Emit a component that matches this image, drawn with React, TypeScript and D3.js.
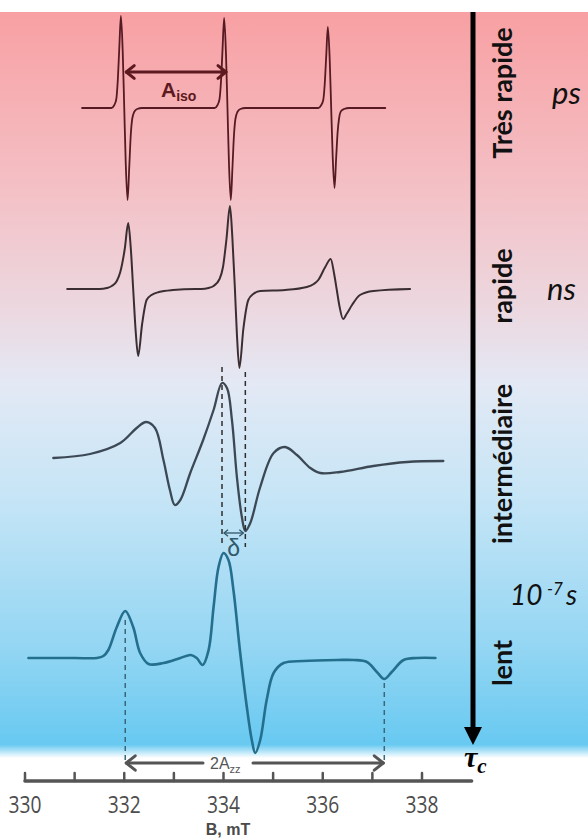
import React from "react";
import * as d3 from "d3";

const W = 588;
const H = 838;

// Magnetic field axis (mT)
const fieldDomain: [number, number] = [330, 338];
const fieldTicks = [330, 331, 332, 333, 334, 335, 336, 337, 338];
const fieldTickLabels = [330, 332, 334, 336, 338];
const axisEnd = 339;

// EPR spectra: [B (mT), intensity]
const spectrumTresRapide: [number, number][] = [
  [331.15, 0], [331.74, 0], [331.8, 3], [331.84, 9], [331.87, 28], [331.9, 60], [331.933, 92], [331.97, 55], [332.0, 0], [332.03, -55], [332.067, -92], [332.1, -60], [332.13, -28], [332.16, -11], [332.2, -4], [332.26, -1], [332.36, 0],
  [333.82, 0], [333.88, 3], [333.92, 9], [333.95, 27], [333.98, 58], [334.013, 90], [334.05, 54], [334.08, 0], [334.11, -55], [334.147, -92], [334.18, -60], [334.21, -28], [334.24, -11], [334.28, -4], [334.34, -1], [334.44, 0],
  [335.91, 0], [335.97, 3], [336.01, 8], [336.04, 24], [336.07, 52], [336.103, 81], [336.14, 49], [336.17, 0], [336.2, -48], [336.237, -80], [336.27, -50], [336.3, -24], [336.33, -10], [336.37, -3], [336.43, -1], [336.53, 0], [337.26, 0],
];

const spectrumRapide: [number, number][] = [
  [330.85, 0], [331.5, 0], [331.65, 1], [331.75, 3], [331.85, 8], [331.92, 17], [332.01, 40], [332.08, 66], [332.13, 42], [332.18, 0], [332.23, -42], [332.28, -67], [332.36, -35], [332.45, -11], [332.55, -6], [332.7, -3], [332.98, -1], [333.43, 0],
  [333.55, 0], [333.7, 1], [333.8, 3], [333.92, 10], [333.99, 22], [334.06, 50], [334.13, 83], [334.18, 50], [334.23, 0], [334.27, -45], [334.32, -79], [334.4, -40], [334.5, -11], [334.6, -5], [334.74, -2], [335.24, -1],
  [335.68, 2], [335.82, 5], [335.91, 9], [336.05, 22], [336.16, 30], [336.23, 15], [336.28, 0], [336.34, -18], [336.41, -30], [336.48, -25], [336.59, -16], [336.75, -6], [337.02, -2], [337.76, 0],
];

const spectrumIntermediaire: [number, number][] = [
  [330.57, 2], [331.31, 6], [331.92, 17], [332.25, 32], [332.44, 38], [332.62, 32], [332.79, 0], [332.92, -30], [333.02, -45], [333.13, -40], [333.33, -13],
  [333.59, 20], [333.8, 50], [333.97, 77], [334.07, 72], [334.17, 40], [334.27, -17], [334.37, -57], [334.44, -71], [334.54, -63], [334.74, -27],
  [335.01, 7], [335.24, 13], [335.48, 5], [335.75, -8], [335.95, -13], [336.35, -12], [337.02, -6], [337.7, -2], [338.43, -1],
];

const spectrumLent: [number, number][] = [
  [330.07, 0], [331.0, 0], [331.45, 0], [331.58, 2], [331.68, 8], [331.85, 31], [332.02, 47], [332.18, 31], [332.32, 5], [332.49, -6], [332.79, -5], [333.13, 0],
  [333.34, 3], [333.46, 0], [333.58, -7], [333.7, 8], [333.8, 51], [333.9, 91], [334.0, 105], [334.1, 98], [334.2, 68], [334.33, 8],
  [334.47, -49], [334.57, -82], [334.64, -95], [334.74, -82], [334.87, -42], [335.01, -15], [335.21, -5], [335.61, -3], [336.3, -2], [336.62, -2],
  [336.89, -4], [337.09, -14], [337.24, -21], [337.39, -14], [337.63, -2], [337.9, 0], [338.27, 0],
];

// Annotation field positions (mT)
const aisoMarks: [number, number] = [332.02, 334.07];
const deltaMarks: [number, number] = [333.97, 334.44];
const azzMarks: [number, number] = [332.02, 337.24];

// Labels
const regimeLabels = ["Très rapide", "rapide", "intermédiaire", "lent"];
const timeLabels = ["ps", "ns", "10", "-7", "s"];

// ---- layout ----
const xScale = d3.scaleLinear().domain(fieldDomain).range([25, 422]);
const baselines = [108, 289, 460, 658];
const yFor = (base: number) => d3.scaleLinear().domain([0, 100]).range([base, base - 100]);

const spectra = [
  { data: spectrumTresRapide, color: "#561a22", width: 1.8, curve: d3.curveMonotoneX },
  { data: spectrumRapide, color: "#3b2e33", width: 2, curve: d3.curveMonotoneX },
  { data: spectrumIntermediaire, color: "#3c4955", width: 2.3, curve: d3.curveCatmullRom.alpha(0.5) },
  { data: spectrumLent, color: "#246f8e", width: 2.6, curve: d3.curveCatmullRom.alpha(0.5) },
];

const regimeY = [93, 286, 464, 663];

function chevron(x: number, y: number, dir: number, s: number) {
  return `M${x + dir * s},${y - s * 0.8}L${x},${y}L${x + dir * s},${y + s * 0.8}`;
}

export default function App() {
  const axisY = 781;
  const a1 = xScale(aisoMarks[0]);
  const a2 = xScale(aisoMarks[1]);
  const d1 = xScale(deltaMarks[0]);
  const d2 = xScale(deltaMarks[1]);
  const z1 = xScale(azzMarks[0]);
  const z2 = xScale(azzMarks[1]);
  const azzY = 763;
  const sans = "'Liberation Sans', Arial, sans-serif";
  const lato = "Lato, 'Open Sans', sans-serif";

  return (
    <div style={{ position: "absolute", left: 0, top: 0 }}>
      <svg width={W} height={H} viewBox={`0 0 ${W} ${H}`} style={{ display: "block", background: "#fff" }}>
        <defs>
          <linearGradient id="bg" x1="0" y1="0" x2="0" y2="1">
            <stop offset="0%" stopColor="#f8a0a3" />
            <stop offset="22%" stopColor="#f4bec3" />
            <stop offset="40%" stopColor="#ecd8e0" />
            <stop offset="50%" stopColor="#e3e9f5" />
            <stop offset="65%" stopColor="#c6e5f6" />
            <stop offset="85%" stopColor="#94d6f3" />
            <stop offset="98.2%" stopColor="#68c9f1" />
            <stop offset="100%" stopColor="#ffffff" />
          </linearGradient>
        </defs>
        <rect x={0} y={12} width={W} height={746} fill="url(#bg)" />

        {/* spectra */}
        {spectra.map((s, i) => {
          const y = yFor(baselines[i]);
          const line = d3
            .line<[number, number]>()
            .x((d) => xScale(d[0]))
            .y((d) => y(d[1]))
            .curve(s.curve);
          return (
            <path key={i} d={line(s.data) || ""} fill="none" stroke={s.color} strokeWidth={s.width} strokeLinejoin="round" strokeLinecap="round" />
          );
        })}

        {/* A_iso arrow */}
        <g stroke="#5c1a20" strokeWidth={3} fill="none" strokeLinecap="round" strokeLinejoin="round">
          <line x1={a1 + 1} y1={72} x2={a2 - 1} y2={72} />
          <path d={chevron(a1 + 1, 72, 1, 8)} />
          <path d={chevron(a2 - 1, 72, -1, 8)} />
        </g>
        <text x={161} y={97} fontFamily={sans} fontWeight="bold" fontSize={21} fill="#5c1a20">
          A<tspan fontSize={14} dy={4}>iso</tspan>
        </text>

        {/* delta */}
        <g stroke="#2e2e2e" strokeWidth={1.5} strokeDasharray="5,4">
          <line x1={d1} y1={367} x2={d1} y2={543} />
          <line x1={d2} y1={372} x2={d2} y2={547} />
        </g>
        <g stroke="#2f5566" strokeWidth={1.3} fill="none">
          <line x1={d1 + 2} y1={533} x2={d2 - 2} y2={533} />
          <path d={chevron(d1 + 2, 533, 1, 4)} />
          <path d={chevron(d2 - 2, 533, -1, 4)} />
        </g>
        <text x={(d1 + d2) / 2} y={556} textAnchor="middle" fontFamily={sans} fontSize={23} fill="#2f5a6b">
          δ
        </text>

        {/* 2Azz */}
        <g stroke="#3c6679" strokeWidth={1.5} strokeDasharray="5,4">
          <line x1={z1} y1={620} x2={z1} y2={azzY} />
          <line x1={z2} y1={683} x2={z2} y2={azzY} />
        </g>
        <g stroke="#555" strokeWidth={3} fill="none" strokeLinecap="round" strokeLinejoin="round">
          <line x1={z1 + 1} y1={azzY} x2={203} y2={azzY} />
          <line x1={253} y1={azzY} x2={z2 - 1} y2={azzY} />
          <path d={chevron(z1 + 1, azzY, 1, 9)} />
          <path d={chevron(z2 - 1, azzY, -1, 9)} />
        </g>
        <text x={210} y={769} fontFamily={sans} fontSize={16} fill="#555">
          2A<tspan fontSize={11} dy={4}>zz</tspan>
        </text>

        {/* field axis */}
        <g stroke="#555" strokeLinecap="round">
          <line x1={xScale(fieldDomain[0])} y1={axisY} x2={xScale(axisEnd)} y2={axisY} strokeWidth={3.5} />
          {fieldTicks.map((t) => (
            <line key={t} x1={xScale(t)} y1={axisY - 8} x2={xScale(t)} y2={axisY} strokeWidth={2.5} />
          ))}
        </g>
        {fieldTickLabels.map((t) => (
          <text key={t} transform={`translate(${xScale(t)},813) scale(0.8,1)`} textAnchor="middle" fontFamily="'Open Sans', sans-serif" fontSize={24} fill="#4d4d4d">
            {t}
          </text>
        ))}
        <text x={228} y={835} textAnchor="middle" fontFamily={sans} fontWeight="bold" fontSize={16} fill="#4a4a4a">
          B, mT
        </text>

        {/* tau_c arrow */}
        <rect x={470.5} y={12} width={5} height={718} fill="#000" />
        <path d={`M464,727L482,727L473,745Z`} fill="#000" />
        <text x={464} y={767} fontFamily="'Liberation Serif', 'DejaVu Serif', serif" fontStyle="italic" fontWeight="bold" fontSize={30} fill="#000">
          τ<tspan fontSize={21} dy={6}>c</tspan>
        </text>

        {/* regime labels */}
        {regimeLabels.map((l, i) => (
          <text key={l} transform={`translate(512,${regimeY[i]}) rotate(-90)`} textAnchor="middle" fontFamily={lato} fontWeight="bold" fontSize={27} fill="#111">
            {l}
          </text>
        ))}

        {/* time labels */}
        <text x={552} y={104} fontFamily={lato} fontStyle="italic" fontSize={31} fill="#111">{timeLabels[0]}</text>
        <text x={547} y={300} fontFamily={lato} fontStyle="italic" fontSize={31} fill="#111">{timeLabels[1]}</text>
        <text x={510} y={605} fontFamily={lato} fontStyle="italic" fontSize={28} fill="#111">{timeLabels[2]}</text>
        <text x={547} y={595} fontFamily={lato} fontStyle="italic" fontSize={17} fill="#111">{timeLabels[3]}</text>
        <text x={566} y={605} fontFamily={lato} fontStyle="italic" fontSize={28} fill="#111">{timeLabels[4]}</text>
      </svg>
    </div>
  );
}
